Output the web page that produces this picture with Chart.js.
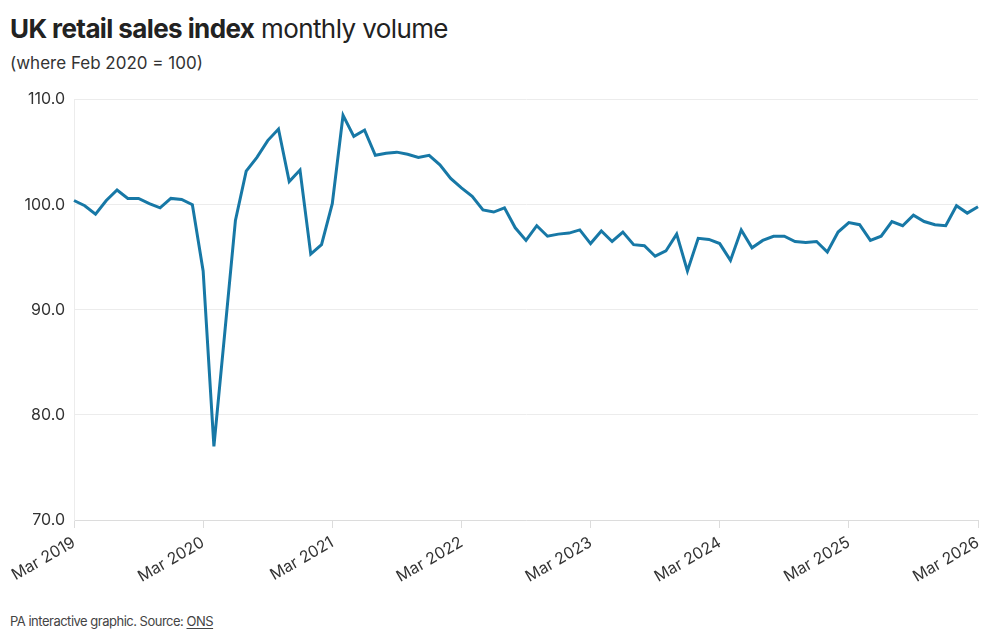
<!DOCTYPE html>
<html>
<head>
<meta charset="utf-8">
<script src="https://cdn.jsdelivr.net/npm/chart.js@4"></script>
<style>
  body { margin: 0; background: #fff; font-family: Inter, "Liberation Sans", sans-serif; color: #222; }
  .wrap { position: relative; width: 1000px; height: 637px; overflow: hidden; }
  .title { position: absolute; left: 10px; top: 13px; font-size: 26px; letter-spacing: -0.6px; color: #222; white-space: nowrap; }
  .title b { font-weight: 700; }
  .title span { font-weight: 400; }
  .subtitle { position: absolute; left: 10px; top: 53px; font-size: 17px; letter-spacing: 0; color: #333; }
  .chart-box { position: absolute; left: 0; top: 81px; width: 1000px; height: 519px; }
  .footer { position: absolute; left: 10px; top: 613px; font-size: 13px; letter-spacing: -0.5px; color: #444; }
  .footer u { text-underline-offset: 2px; }
</style>
</head>
<body>
<div class="wrap">
  <div class="title"><b>UK retail sales index</b> <span>monthly volume</span></div>
  <div class="subtitle">(where Feb 2020 = 100)</div>
  <div class="chart-box"><canvas id="salesChart"></canvas></div>
  <div class="footer">PA interactive graphic. Source: <u>ONS</u></div>
</div>
<script>
// Data (Mar 2019 - Mar 2026, monthly)
const months = ['Jan', 'Feb', 'Mar', 'Apr', 'May', 'Jun', 'Jul', 'Aug', 'Sep', 'Oct', 'Nov', 'Dec'];
const startYear = 2019;
const startMonth = 2; // Mar

const salesIndex = [
  100.4, 99.9, 99.1, 100.4, 101.4, 100.6, 100.6, 100.1, 99.7, 100.6,   // Mar 2019 - Dec 2019
  100.5, 100.0, 93.7, 77.0, 87.7, 98.5, 103.2, 104.5, 106.1, 107.2, 102.2, 103.3, // 2020
  95.3, 96.2, 100.1, 108.5, 106.5, 107.1, 104.7, 104.9, 105.0, 104.8, 104.5, 104.7, // 2021
  103.8, 102.5, 101.6, 100.8, 99.5, 99.3, 99.7, 97.8, 96.6, 98.0, 97.0, 97.2,       // 2022
  97.3, 97.6, 96.3, 97.5, 96.5, 97.4, 96.2, 96.1, 95.1, 95.6, 97.2, 93.7,           // 2023
  96.8, 96.7, 96.3, 94.7, 97.6, 95.9, 96.6, 97.0, 97.0, 96.5, 96.4, 96.5,           // 2024
  95.5, 97.4, 98.3, 98.1, 96.6, 97.0, 98.4, 98.0, 99.0, 98.4, 98.1, 98.0,           // 2025
  99.9, 99.2, 99.8                                                                  // 2026
];

const yTicks = [70, 80, 90, 100, 110];

// Build month labels
const labels = salesIndex.map((_, i) => {
  const m = (startMonth + i) % 12;
  const y = startYear + Math.floor((startMonth + i) / 12);
  return `${months[m]} ${y}`;
});

const isMar = (i) => labels[i] && labels[i].startsWith('Mar');

const ctx = document.getElementById('salesChart').getContext('2d');
const chart = new Chart(ctx, {
  type: 'line',
  data: {
    labels: labels,
    datasets: [{
      label: 'Retail sales index',
      data: salesIndex,
      borderColor: '#1778a6',
      borderWidth: 3,
      pointRadius: 0,
      tension: 0,
      fill: false
    }]
  },
  options: {
    responsive: true,
    maintainAspectRatio: false,
    animation: false,
    layout: { padding: { top: 0, right: 22, left: 0, bottom: 0 } },
    plugins: {
      legend: { display: false },
      tooltip: { enabled: false }
    },
    scales: {
      x: {
        type: 'category',
        offset: false,
        afterFit: (scale) => { scale.height = 80; },
        border: { display: true, color: '#dcdcdc', width: 1 },
        grid: {
          drawOnChartArea: false,
          drawTicks: true,
          tickLength: 8,
          color: (c) => isMar(c.index) ? '#dcdcdc' : 'rgba(0,0,0,0)'
        },
        ticks: {
          autoSkip: false,
          maxRotation: 30,
          minRotation: 30,
          padding: 5,
          color: '#333',
          font: { family: 'Inter', size: 16 },
          callback: function(value, index) {
            return isMar(index) ? labels[index] : '';
          }
        }
      },
      y: {
        min: 70,
        max: 110,
        afterFit: (scale) => { scale.width = 74; },
        afterBuildTicks: (scale) => { scale.ticks = yTicks.map(v => ({ value: v })); },
        border: { display: true, color: '#ececec', width: 1 },
        grid: { color: '#ececec', drawTicks: false },
        ticks: {
          padding: 9,
          color: '#333',
          font: { family: 'Inter', size: 16 },
          callback: (v) => v.toFixed(1)
        }
      }
    }
  }
});
</script>
</body>
</html>
